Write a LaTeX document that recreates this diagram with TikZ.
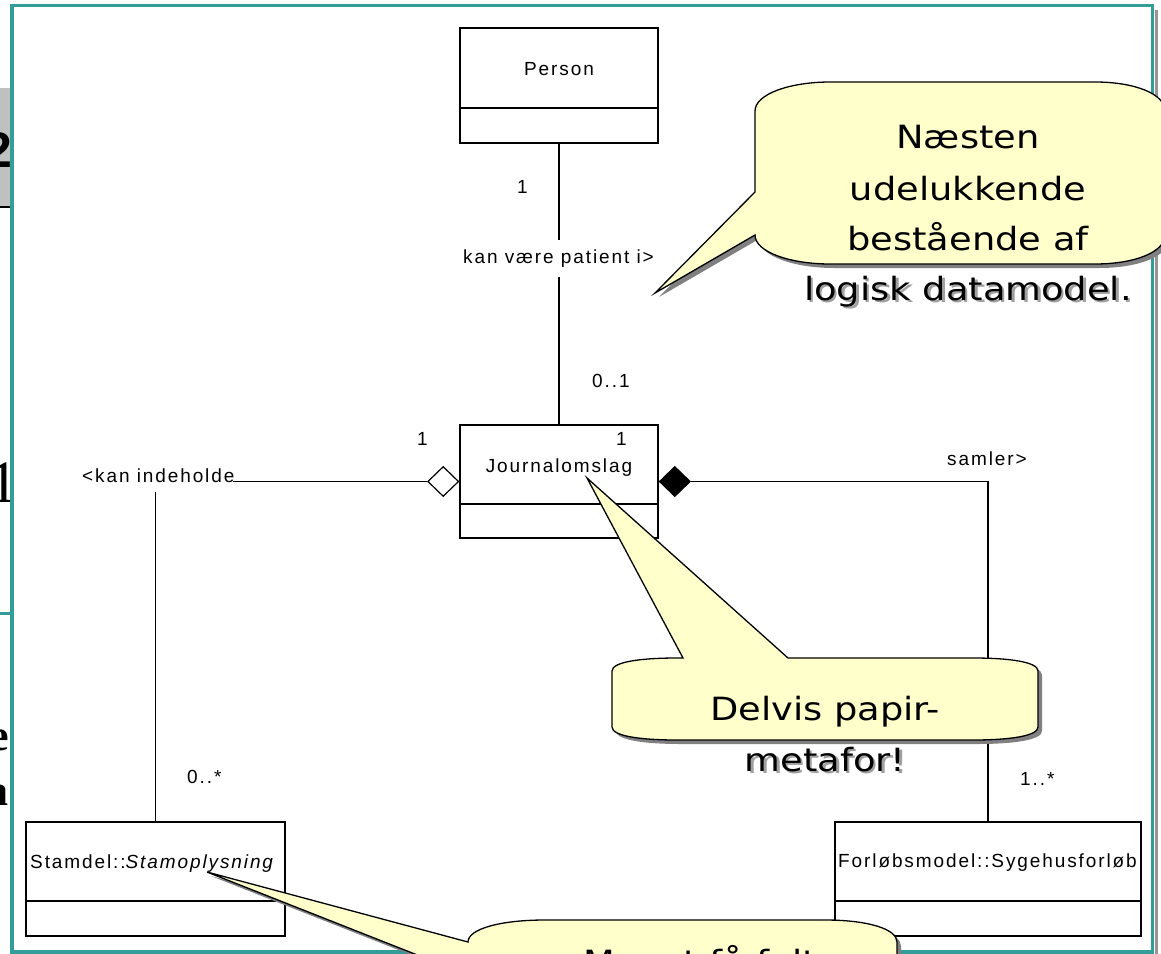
\documentclass[tikz,border=0pt]{standalone}
\usepackage{fontspec}
\setmainfont{Liberation Sans}
\newfontfamily\umlfont[LetterSpace=10]{Liberation Sans}
\newfontfamily\callfont[FakeStretch=1.15]{DejaVu Sans}
\newfontfamily\serfont{Liberation Serif}
\usetikzlibrary{shapes.geometric}
\definecolor{frameteal}{RGB}{51,157,153}
\definecolor{framegray}{RGB}{150,150,150}
\definecolor{fraggray}{RGB}{192,192,192}
\definecolor{callyellow}{RGB}{255,255,204}
\definecolor{shadowgray}{RGB}{128,128,128}
\definecolor{textshadow}{RGB}{160,160,160}
\tikzset{
  uml/.style={draw=black, line width=1.4},
  umlbox/.style={draw=black, line width=1.4, inner sep=0, rectangle},
  umltext/.style={inner sep=0, font=\umlfont\fontsize{19}{22}\selectfont},
  calltext/.style={inner sep=0, anchor=base, font=\callfont\fontsize{32}{38}\selectfont},
  callshadowtext/.style={calltext, text=textshadow},
  calloutshape/.style={draw=black, line width=1.3, fill=callyellow},
  calloutshadow/.style={fill=shadowgray},
  callA/.style={insert path={(755,111) .. controls (755,94) and (790,82) .. (830,82) -- (1095,82) .. controls (1135,82) and (1165,94) .. (1165,111) -- (1165,235) .. controls (1165,252) and (1135,264) .. (1095,264) -- (830,264) .. controls (790,264) and (755,252) .. (755,235) -- (655,293) -- (755,192) -- cycle}},
  callB/.style={insert path={(612,671) .. controls (612,662) and (640,658) .. (677,658) -- (683,658) -- (587,478) -- (788,658) -- (973,658) .. controls (1010,658) and (1038,662) .. (1038,671) -- (1038,727) .. controls (1038,736) and (1010,740) .. (973,740) -- (677,740) .. controls (640,740) and (612,736) .. (612,727) -- cycle}},
  callC/.style={insert path={(468,942) .. controls (468,929) and (500,920) .. (545,920) -- (825,920) .. controls (868,920) and (897,929) .. (897,942) -- (897,1000) -- (468,1000) -- (468,975) -- (207,872) -- cycle}}
}
\begin{document}
\begin{tikzpicture}[x=1pt,y=-1pt]
\useasboundingbox (0,0) rectangle (1161,953);
\fill[white] (0,0) rectangle (1161,953);

% fragments of the slide underneath, at the left edge
\begin{scope}
  \clip (0,0) rectangle (11,953);
  \fill[fraggray] (0,88) rectangle (11,207);
  \draw[line width=1.5] (0,207) -- (11,207);
  \node[anchor=base east, inner sep=0, font=\bfseries\fontsize{50}{50}\selectfont] (frtwo) at (13,167) {2};
  \node[anchor=base east, inner sep=0, font=\serfont\fontsize{60}{60}\selectfont] (frone) at (19,502) {1};
  \draw[frameteal, line width=3] (0,613) -- (11,613);
  \node[anchor=base east, inner sep=0, font=\serfont\bfseries\fontsize{44}{44}\selectfont] (fre) at (9,750) {e};
  \node[anchor=base east, inner sep=0, font=\serfont\bfseries\fontsize{44}{44}\selectfont] (fra) at (9,805) {a};
\end{scope}

% window frame
\draw[framegray, line width=3] (1156.5,10) -- (1156.5,960);
\draw[frameteal, line width=3.5] (12,5.5) rectangle (1152.5,952);

% UML classes
\node[umlbox, minimum width=198, minimum height=115] (person) at (559,85.5) {};
\draw[uml] (460,108) -- (658,108);
\node[umltext, anchor=base] (personlbl) at (559,75) {Person};

\node[umlbox, minimum width=198, minimum height=113] (journal) at (559,481.5) {};
\draw[uml] (460,504) -- (658,504);
\node[umltext, anchor=base] (journallbl) at (559,472) {Journalomslag};

\node[umlbox, minimum width=259, minimum height=114] (stamdel) at (155.5,879) {};
\draw[uml] (26,901) -- (285,901);
\node[umltext, anchor=base west] (stamdellbl) at (30,868) {Stamdel::\textit{Stamoplysning}};

\node[umlbox, minimum width=306, minimum height=114] (forlob) at (988,879) {};
\draw[uml] (835,901) -- (1141,901);
\node[umltext, anchor=base west] (forloblbl) at (838,867) {Forløbsmodel::Sygehusforløb};

% association Person - Journalomslag
\coordinate (aonetop) at (559,240);
\coordinate (aonebot) at (559,277);
\draw[uml] (person.south) -- (aonetop);
\draw[uml] (aonebot) -- (journal.north);
\node[umltext, anchor=base west] (aonelbl) at (463,263) {kan være patient i>};
\node[umltext, anchor=base west] (mone) at (517,193) {1};
\node[umltext, anchor=base west] (mzeroone) at (592,387) {0..1};

% aggregation Journalomslag - Stamoplysning
\node[diamond, draw=black, line width=1.2, fill=white, inner sep=0, minimum width=31, minimum height=30, anchor=east] (agg) at (journal.west) {};
\coordinate (atwoend) at (233,481.5);
\coordinate (atwotop) at (155.5,492);
\draw[uml] (agg.west) -- (atwoend);
\draw[uml] (atwotop) -- (stamdel.north);
\node[umltext, anchor=base west] (atwolbl) at (82,482) {<kan indeholde};
\node[umltext, anchor=base west] (mleft) at (417,445) {1};
\node[umltext, anchor=base west] (mzeromany) at (187,783) {0..*};

% composition Journalomslag - Sygehusforløb
\node[diamond, draw=black, line width=1.2, fill=black, inner sep=0, minimum width=31, minimum height=30, anchor=west] (comp) at (journal.east) {};
\draw[uml] (comp.east) -- (comp.east -| forlob.north) -- (forlob.north);
\node[umltext, anchor=base west] (athreelbl) at (947,465) {samler>};
\node[umltext, anchor=base west] (mright) at (616,445) {1};
\node[umltext, anchor=base west] (monemany) at (1020,785) {1..*};

% text shadows (lie behind the callouts)
\begin{scope}[shift={(2.5,2.5)}]
  \node[callshadowtext] (sha) at (968,148) {Næsten};
  \node[callshadowtext] (shb) at (968,200) {udelukkende};
  \node[callshadowtext] (shc) at (968,250) {bestående af};
  \node[callshadowtext] (shd) at (968,300) {logisk datamodel.};
  \node[callshadowtext] (she) at (825,720) {Delvis papir-};
  \node[callshadowtext] (shf) at (825,771) {metafor!};
\end{scope}

% callouts
\fill[calloutshadow, shift={(4,4)}, callA];
\path[calloutshape, callA];
\fill[calloutshadow, shift={(4,4)}, callB];
\path[calloutshape, callB];
\fill[calloutshadow, shift={(4,4)}, callC];
\path[calloutshape, callC];

% callout texts
\node[calltext] (ta) at (968,148) {Næsten};
\node[calltext] (tb) at (968,200) {udelukkende};
\node[calltext] (tc) at (968,250) {bestående af};
\node[calltext] (td) at (968,300) {logisk datamodel.};
\node[calltext] (te) at (825,720) {Delvis papir-};
\node[calltext] (tf) at (825,771) {metafor!};
\node[calltext, anchor=base west] (tg) at (583,973) {Meget få felter};
\end{tikzpicture}
\end{document}
